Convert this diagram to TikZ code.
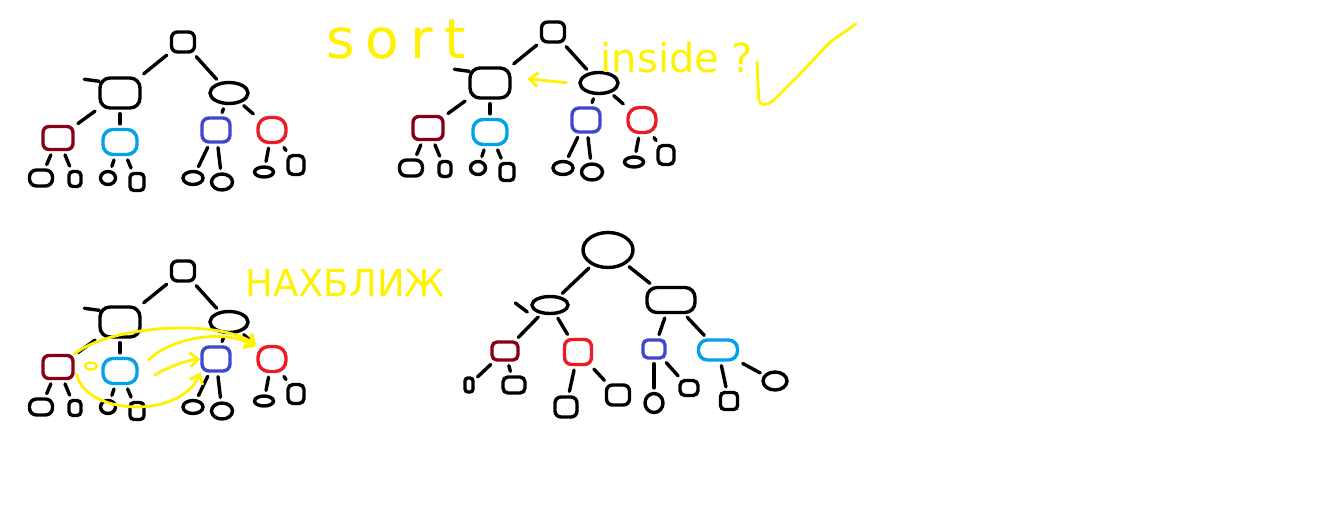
\documentclass[tikz,border=0pt]{standalone}
\usepackage{fontspec}
\newfontfamily\hand{DejaVu Sans}
\usetikzlibrary{shapes.geometric,arrows.meta}
\definecolor{dred}{HTML}{880015}
\definecolor{pred}{HTML}{ED1C24}
\definecolor{lblue}{HTML}{00A2E8}
\definecolor{indigo}{HTML}{3F48CC}
\definecolor{yel}{HTML}{FFF200}
\tikzset{
  nd/.style={draw=black,line width=3.4pt,inner sep=0pt,rounded corners=5pt},
  sz/.style 2 args={minimum width=#1pt,minimum height=#2pt},
  ed/.style={line width=3.4pt,line cap=round,shorten <=4pt,shorten >=4pt},
  hook/.style={line width=3.4pt,line cap=round},
  yarr/.style={draw=yel,line width=2.8pt,line cap=round,-{Straight Barb[length=8pt,width=14pt]}},
  ytxt/.style={text=yel,inner sep=0pt,font=\hand},
}
\newcommand\mytree[3]{%
\begin{scope}[shift={(#2,#3)}]
\node[nd,sz={23}{20},rounded corners=6pt] (#1r) at (183,42) {};
\node[nd,sz={40}{30},rounded corners=10pt] (#1a) at (120,93) {};
\node[nd,ellipse,sz={38}{21}] (#1b) at (229,93) {};
\node[nd,draw=dred,sz={30}{23},rounded corners=6pt] (#1c) at (58,138) {};
\node[nd,draw=lblue,sz={34}{25},rounded corners=10pt] (#1d) at (120,142) {};
\node[nd,draw=indigo,sz={28}{24},rounded corners=7pt] (#1e) at (216,130) {};
\node[nd,draw=pred,sz={28}{25},rounded corners=11pt] (#1f) at (272,130) {};
\node[nd,sz={23}{16},rounded corners=7pt] (#1g) at (41,178) {};
\node[nd,sz={12}{15},rounded corners=4pt] (#1h) at (75,179) {};
\node[nd,ellipse,sz={15}{13}] (#1i) at (108,178) {};
\node[nd,sz={14}{17},rounded corners=4pt] (#1j) at (137,182) {};
\node[nd,ellipse,sz={20}{13}] (#1k) at (193,178) {};
\node[nd,ellipse,sz={21}{16}] (#1l) at (222,182) {};
\node[nd,ellipse,sz={19}{10}] (#1m) at (264,172) {};
\node[nd,sz={16}{19},rounded corners=5pt] (#1n) at (296,165) {};
\draw[ed] (#1r) -- (#1a);
\draw[ed] (#1r) -- (#1b);
\draw[ed] (#1a) -- (#1c);
\draw[ed] (#1a) -- (#1d);
\draw[ed] (#1b) -- (#1e);
\draw[ed] (#1b) -- (#1f);
\draw[ed] (#1c) -- (#1g);
\draw[ed] (#1c) -- (#1h);
\draw[ed] (#1d) -- (#1i);
\draw[ed] (#1d) -- (#1j);
\draw[ed] (#1e) -- (#1k);
\draw[ed] (#1e) -- (#1l);
\draw[ed] (#1f) -- (#1m);
\draw[ed] (#1f) -- (#1n);
\draw[hook] ([shift={(-14,3)}]#1a.north west) -- ([shift={(1,5)}]#1a.north west);
\end{scope}}
\begin{document}
\begin{tikzpicture}[x=1pt,y=-1pt]
\useasboundingbox (0,0) rectangle (1324,520);
\fill[white] (0,0) rectangle (1324,520);
\mytree{t1}{0}{0}
\mytree{t2}{370}{-10}
\mytree{t3}{0}{229}
% tree 4
\node[nd,ellipse,sz={50}{35}] (ur) at (608,250) {};
\node[nd,ellipse,sz={36}{17}] (ua) at (550,305) {};
\node[nd,sz={48}{25},rounded corners=10pt] (ub) at (671,300) {};
\node[nd,draw=dred,sz={26}{18},rounded corners=5pt] (uc) at (505,351) {};
\node[nd,draw=pred,sz={27}{25},rounded corners=7pt] (ud) at (578,352) {};
\node[nd,draw=indigo,sz={22}{18},rounded corners=5pt] (ue) at (654,349) {};
\node[nd,draw=lblue,sz={39}{20},rounded corners=9pt] (uf) at (718,350) {};
\node[nd,sz={8}{14},rounded corners=3pt] (ug) at (469,385) {};
\node[nd,sz={22}{16},rounded corners=5pt] (uh) at (514,385) {};
\node[nd,sz={22}{20},rounded corners=6pt] (ui) at (566,407) {};
\node[nd,sz={23}{20},rounded corners=6pt] (uj) at (618,395) {};
\node[nd,ellipse,sz={18}{19}] (uk) at (654,403) {};
\node[nd,sz={18}{15},rounded corners=5pt] (ul) at (689,388) {};
\node[nd,sz={17}{17},rounded corners=4pt] (um) at (729,401) {};
\node[nd,ellipse,sz={24}{18}] (un) at (775,381) {};
\draw[ed] (ur) -- (ua);
\draw[ed] (ur) -- (ub);
\draw[ed] (ua) -- (uc);
\draw[ed] (ua) -- (ud);
\draw[ed] (ub) -- (ue);
\draw[ed] (ub) -- (uf);
\draw[ed] (uc) -- (ug);
\draw[ed] (uc) -- (uh);
\draw[ed] (ud) -- (ui);
\draw[ed] (ud) -- (uj);
\draw[ed] (ue) -- (uk);
\draw[ed] (ue) -- (ul);
\draw[ed] (uf) -- (um);
\draw[ed] (uf) -- (un);
\draw[hook] ([shift={(-15,-2)}]ua.west) -- ([shift={(-3,7)}]ua.west);
% yellow annotations
\node[ytxt,font=\hand\fontsize{55}{55}\selectfont\addfontfeatures{LetterSpace=20}] (sort) at (396,40) {sort};
\node[ytxt,font=\hand\fontsize{40}{40}\selectfont] (inside) at (677,58) {inside ?};
\node[ytxt,font=\hand\fontsize{37}{37}\selectfont] (nax) at (345,283) {НАХБЛИЖ};
\draw[yel,line width=2.8pt,line cap=round,line join=round,rounded corners=6pt]
  (757,62) -- (759,105) -- (770,104) -- (802,72) -- (830,42) -- (856,24);
\draw[yarr,shorten <=12pt,shorten >=16pt] ([yshift=-1]t2b.west) -- ([yshift=6]t2a.east);
\node[draw=yel,line width=2.4pt,ellipse,sz={12}{7},inner sep=0pt] (t3s) at (91,366) {};
\draw[yarr] (t3c.north east) .. controls (110,326) and (215,318) .. (t3f.north west);
\draw[yarr] ([shift={(10,-11)}]t3d.east) .. controls (170,338) and (225,328) .. ([shift={(-1,2)}]t3f.north west);
\draw[yarr] ([shift={(2,-6)}]t3c.south east) .. controls (85,415) and (180,420) .. (t3e.south west);
\draw[yarr] ([shift={(16,4)}]t3d.east) .. controls (170,366) and (188,360) .. (t3e.west);
\end{tikzpicture}
\end{document}
